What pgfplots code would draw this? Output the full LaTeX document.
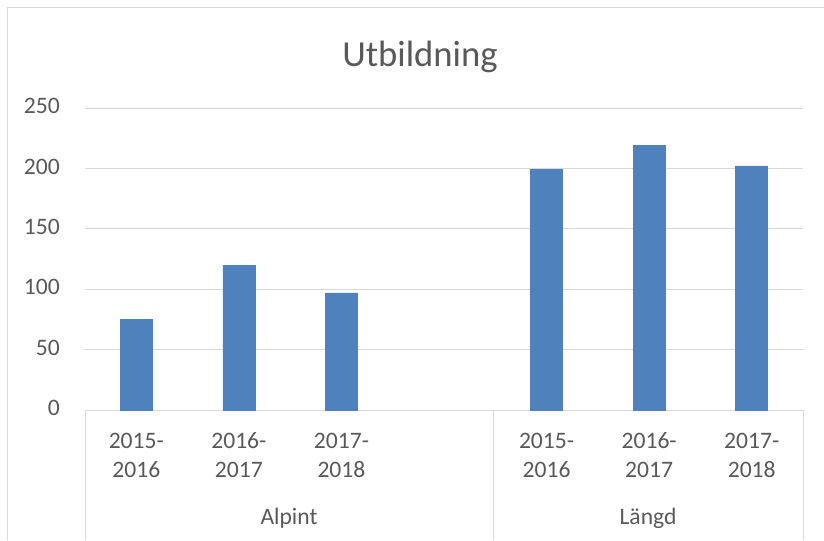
\documentclass[border=0pt]{standalone}
\usepackage{pgfplots}
\pgfplotsset{compat=1.18}
\usepackage{fontspec}
\setmainfont{Carlito}
\definecolor{barblue}{HTML}{4F81BD}
\definecolor{gridgray}{HTML}{D9D9D9}
\definecolor{txtgray}{HTML}{595959}
\begin{document}
\begin{tikzpicture}
\path[use as bounding box] (0pt,0pt) rectangle (618pt,405pt);
% chart frame (pixel y measured from top: pt = 0.75*(540-y))
\draw[gridgray, line width=0.75pt] (5.5pt,0pt) -- (5.5pt,399pt) -- (618pt,399pt);
\begin{axis}[
  at={(63.75pt,97.5pt)}, anchor=south west,
  scale only axis, width=538.5pt, height=226.5pt,
  xmin=-0.5, xmax=6.5, ymin=0, ymax=250,
  ytick={0,50,...,250},
  xtick={0,1,2,4,5,6},
  xticklabels={{2015-\\2016},{2016-\\2017},{2017-\\2018},{2015-\\2016},{2016-\\2017},{2017-\\2018}},
  axis y line=left,
  y axis line style={draw=none},
  axis x line=bottom,
  x axis line style={draw=gridgray, line width=0.75pt, -},
  ymajorgrids, grid style={draw=gridgray, line width=0.75pt},
  major tick length=0pt,
  /pgf/number format/assume math mode=true,
  typeset ticklabels with strut,
  tick label style={font=\fontsize{17.7}{21.4}\selectfont, text=txtgray},
  yticklabel style={anchor=east, inner sep=0pt, text width=40pt, align=right, xshift=-18.75pt},
  xticklabel style={align=center, anchor=north, inner sep=0pt, yshift=-14pt},
  ybar, bar width=24pt,
  clip=false,
]
\addplot[fill=barblue, draw=barblue] coordinates {(0,75) (1,120) (2,97) (4,199) (5,219) (6,202)};
\end{axis}
% category group separators
\draw[gridgray, line width=0.75pt] (63.75pt,97.5pt) -- (63.75pt,0pt) (369.75pt,97.5pt) -- (369.75pt,0pt) (602.25pt,97.5pt) -- (602.25pt,0pt);
\node[font=\fontsize{17.7}{20}\selectfont, text=txtgray] at (216.75pt,16.5pt) {Alpint};
\node[font=\fontsize{17.7}{20}\selectfont, text=txtgray] at (486pt,16.5pt) {Längd};
\node[font=\fontsize{27.5}{32}\selectfont, text=txtgray, anchor=base] at (315pt,354.75pt) {Utbildning};
\end{tikzpicture}
\end{document}
